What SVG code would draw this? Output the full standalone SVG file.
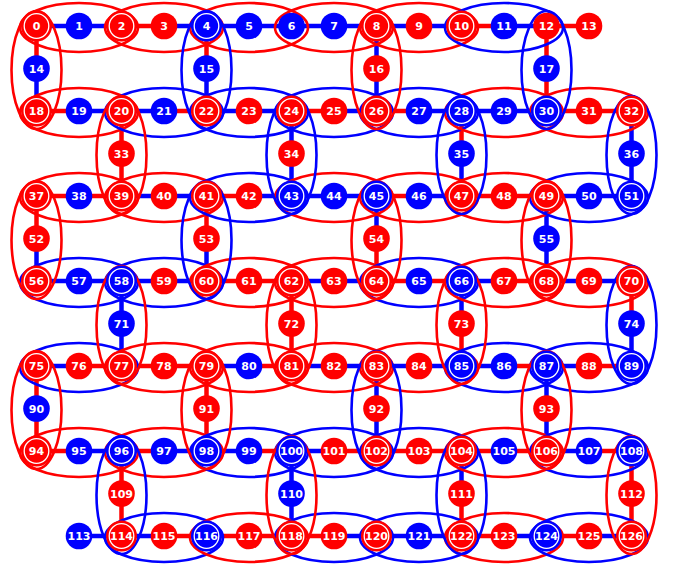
<svg xmlns="http://www.w3.org/2000/svg" width="677" height="568" viewBox="0 0 677 568">
<style>
.lr{stroke:#ff0000;stroke-width:4.5}
.lb{stroke:#0000ff;stroke-width:4.5}
ellipse{fill:none;stroke-width:2.6}
ellipse.R{stroke:#ff0000}
ellipse.B{stroke:#0000ff}
circle.R{fill:#ff0000}
circle.B{fill:#0000ff}
circle.w{fill:none;stroke:#ffffff;stroke-width:1.3}
text{font-family:"DejaVu Sans",sans-serif;font-weight:bold;font-size:11px;fill:#ffffff;text-anchor:middle}
</style>
<rect width="677" height="568" fill="#ffffff"/>
<g id="connectors">
<line x1="36.5" y1="26" x2="79" y2="26" class="lb"/>
<line x1="79" y1="26" x2="121.5" y2="26" class="lb"/>
<line x1="121.5" y1="26" x2="164" y2="26" class="lr"/>
<line x1="164" y1="26" x2="206.5" y2="26" class="lb"/>
<line x1="206.5" y1="26" x2="249" y2="26" class="lb"/>
<line x1="249" y1="26" x2="291.5" y2="26" class="lb"/>
<line x1="291.5" y1="26" x2="334" y2="26" class="lb"/>
<line x1="334" y1="26" x2="376.5" y2="26" class="lb"/>
<line x1="376.5" y1="26" x2="419" y2="26" class="lb"/>
<line x1="419" y1="26" x2="461.5" y2="26" class="lb"/>
<line x1="461.5" y1="26" x2="504" y2="26" class="lr"/>
<line x1="504" y1="26" x2="546.5" y2="26" class="lb"/>
<line x1="546.5" y1="26" x2="589" y2="26" class="lr"/>
<line x1="36.5" y1="26" x2="36.5" y2="68.5" class="lr"/>
<line x1="36.5" y1="68.5" x2="36.5" y2="111" class="lb"/>
<line x1="206.5" y1="26" x2="206.5" y2="68.5" class="lr"/>
<line x1="206.5" y1="68.5" x2="206.5" y2="111" class="lb"/>
<line x1="376.5" y1="26" x2="376.5" y2="68.5" class="lb"/>
<line x1="376.5" y1="68.5" x2="376.5" y2="111" class="lb"/>
<line x1="546.5" y1="26" x2="546.5" y2="68.5" class="lr"/>
<line x1="546.5" y1="68.5" x2="546.5" y2="111" class="lr"/>
<line x1="36.5" y1="111" x2="79" y2="111" class="lr"/>
<line x1="79" y1="111" x2="121.5" y2="111" class="lb"/>
<line x1="121.5" y1="111" x2="164" y2="111" class="lb"/>
<line x1="164" y1="111" x2="206.5" y2="111" class="lr"/>
<line x1="206.5" y1="111" x2="249" y2="111" class="lb"/>
<line x1="249" y1="111" x2="291.5" y2="111" class="lb"/>
<line x1="291.5" y1="111" x2="334" y2="111" class="lr"/>
<line x1="334" y1="111" x2="376.5" y2="111" class="lb"/>
<line x1="376.5" y1="111" x2="419" y2="111" class="lr"/>
<line x1="419" y1="111" x2="461.5" y2="111" class="lb"/>
<line x1="461.5" y1="111" x2="504" y2="111" class="lb"/>
<line x1="504" y1="111" x2="546.5" y2="111" class="lb"/>
<line x1="546.5" y1="111" x2="589" y2="111" class="lr"/>
<line x1="589" y1="111" x2="631.5" y2="111" class="lr"/>
<line x1="121.5" y1="111" x2="121.5" y2="153.5" class="lr"/>
<line x1="121.5" y1="153.5" x2="121.5" y2="196" class="lr"/>
<line x1="291.5" y1="111" x2="291.5" y2="153.5" class="lb"/>
<line x1="291.5" y1="153.5" x2="291.5" y2="196" class="lb"/>
<line x1="461.5" y1="111" x2="461.5" y2="153.5" class="lr"/>
<line x1="461.5" y1="153.5" x2="461.5" y2="196" class="lb"/>
<line x1="631.5" y1="111" x2="631.5" y2="153.5" class="lb"/>
<line x1="631.5" y1="153.5" x2="631.5" y2="196" class="lb"/>
<line x1="36.5" y1="196" x2="79" y2="196" class="lr"/>
<line x1="79" y1="196" x2="121.5" y2="196" class="lr"/>
<line x1="121.5" y1="196" x2="164" y2="196" class="lb"/>
<line x1="164" y1="196" x2="206.5" y2="196" class="lb"/>
<line x1="206.5" y1="196" x2="249" y2="196" class="lr"/>
<line x1="249" y1="196" x2="291.5" y2="196" class="lb"/>
<line x1="291.5" y1="196" x2="334" y2="196" class="lb"/>
<line x1="334" y1="196" x2="376.5" y2="196" class="lb"/>
<line x1="376.5" y1="196" x2="419" y2="196" class="lr"/>
<line x1="419" y1="196" x2="461.5" y2="196" class="lb"/>
<line x1="461.5" y1="196" x2="504" y2="196" class="lr"/>
<line x1="504" y1="196" x2="546.5" y2="196" class="lr"/>
<line x1="546.5" y1="196" x2="589" y2="196" class="lb"/>
<line x1="589" y1="196" x2="631.5" y2="196" class="lb"/>
<line x1="36.5" y1="196" x2="36.5" y2="238.5" class="lr"/>
<line x1="36.5" y1="238.5" x2="36.5" y2="281" class="lb"/>
<line x1="206.5" y1="196" x2="206.5" y2="238.5" class="lr"/>
<line x1="206.5" y1="238.5" x2="206.5" y2="281" class="lb"/>
<line x1="376.5" y1="196" x2="376.5" y2="238.5" class="lb"/>
<line x1="376.5" y1="238.5" x2="376.5" y2="281" class="lr"/>
<line x1="546.5" y1="196" x2="546.5" y2="238.5" class="lb"/>
<line x1="546.5" y1="238.5" x2="546.5" y2="281" class="lb"/>
<line x1="36.5" y1="281" x2="79" y2="281" class="lb"/>
<line x1="79" y1="281" x2="121.5" y2="281" class="lb"/>
<line x1="121.5" y1="281" x2="164" y2="281" class="lb"/>
<line x1="164" y1="281" x2="206.5" y2="281" class="lb"/>
<line x1="206.5" y1="281" x2="249" y2="281" class="lr"/>
<line x1="249" y1="281" x2="291.5" y2="281" class="lr"/>
<line x1="291.5" y1="281" x2="334" y2="281" class="lb"/>
<line x1="334" y1="281" x2="376.5" y2="281" class="lb"/>
<line x1="376.5" y1="281" x2="419" y2="281" class="lr"/>
<line x1="419" y1="281" x2="461.5" y2="281" class="lr"/>
<line x1="461.5" y1="281" x2="504" y2="281" class="lb"/>
<line x1="504" y1="281" x2="546.5" y2="281" class="lr"/>
<line x1="546.5" y1="281" x2="589" y2="281" class="lb"/>
<line x1="589" y1="281" x2="631.5" y2="281" class="lb"/>
<line x1="121.5" y1="281" x2="121.5" y2="323.5" class="lb"/>
<line x1="121.5" y1="323.5" x2="121.5" y2="366" class="lb"/>
<line x1="291.5" y1="281" x2="291.5" y2="323.5" class="lr"/>
<line x1="291.5" y1="323.5" x2="291.5" y2="366" class="lr"/>
<line x1="461.5" y1="281" x2="461.5" y2="323.5" class="lb"/>
<line x1="461.5" y1="323.5" x2="461.5" y2="366" class="lr"/>
<line x1="631.5" y1="281" x2="631.5" y2="323.5" class="lr"/>
<line x1="631.5" y1="323.5" x2="631.5" y2="366" class="lb"/>
<line x1="36.5" y1="366" x2="79" y2="366" class="lb"/>
<line x1="79" y1="366" x2="121.5" y2="366" class="lr"/>
<line x1="121.5" y1="366" x2="164" y2="366" class="lr"/>
<line x1="164" y1="366" x2="206.5" y2="366" class="lr"/>
<line x1="206.5" y1="366" x2="249" y2="366" class="lb"/>
<line x1="249" y1="366" x2="291.5" y2="366" class="lr"/>
<line x1="291.5" y1="366" x2="334" y2="366" class="lb"/>
<line x1="334" y1="366" x2="376.5" y2="366" class="lb"/>
<line x1="376.5" y1="366" x2="419" y2="366" class="lb"/>
<line x1="419" y1="366" x2="461.5" y2="366" class="lb"/>
<line x1="461.5" y1="366" x2="504" y2="366" class="lb"/>
<line x1="504" y1="366" x2="546.5" y2="366" class="lr"/>
<line x1="546.5" y1="366" x2="589" y2="366" class="lb"/>
<line x1="589" y1="366" x2="631.5" y2="366" class="lr"/>
<line x1="36.5" y1="366" x2="36.5" y2="408.5" class="lr"/>
<line x1="36.5" y1="408.5" x2="36.5" y2="451" class="lr"/>
<line x1="206.5" y1="366" x2="206.5" y2="408.5" class="lr"/>
<line x1="206.5" y1="408.5" x2="206.5" y2="451" class="lr"/>
<line x1="376.5" y1="366" x2="376.5" y2="408.5" class="lb"/>
<line x1="376.5" y1="408.5" x2="376.5" y2="451" class="lb"/>
<line x1="546.5" y1="366" x2="546.5" y2="408.5" class="lb"/>
<line x1="546.5" y1="408.5" x2="546.5" y2="451" class="lb"/>
<line x1="36.5" y1="451" x2="79" y2="451" class="lr"/>
<line x1="79" y1="451" x2="121.5" y2="451" class="lb"/>
<line x1="121.5" y1="451" x2="164" y2="451" class="lr"/>
<line x1="164" y1="451" x2="206.5" y2="451" class="lb"/>
<line x1="206.5" y1="451" x2="249" y2="451" class="lb"/>
<line x1="249" y1="451" x2="291.5" y2="451" class="lr"/>
<line x1="291.5" y1="451" x2="334" y2="451" class="lb"/>
<line x1="334" y1="451" x2="376.5" y2="451" class="lr"/>
<line x1="376.5" y1="451" x2="419" y2="451" class="lr"/>
<line x1="419" y1="451" x2="461.5" y2="451" class="lr"/>
<line x1="461.5" y1="451" x2="504" y2="451" class="lr"/>
<line x1="504" y1="451" x2="546.5" y2="451" class="lr"/>
<line x1="546.5" y1="451" x2="589" y2="451" class="lb"/>
<line x1="589" y1="451" x2="631.5" y2="451" class="lr"/>
<line x1="121.5" y1="451" x2="121.5" y2="493.5" class="lr"/>
<line x1="121.5" y1="493.5" x2="121.5" y2="536" class="lr"/>
<line x1="291.5" y1="451" x2="291.5" y2="493.5" class="lb"/>
<line x1="291.5" y1="493.5" x2="291.5" y2="536" class="lb"/>
<line x1="461.5" y1="451" x2="461.5" y2="493.5" class="lb"/>
<line x1="461.5" y1="493.5" x2="461.5" y2="536" class="lr"/>
<line x1="631.5" y1="451" x2="631.5" y2="493.5" class="lr"/>
<line x1="631.5" y1="493.5" x2="631.5" y2="536" class="lr"/>
<line x1="79" y1="536" x2="121.5" y2="536" class="lb"/>
<line x1="121.5" y1="536" x2="164" y2="536" class="lb"/>
<line x1="164" y1="536" x2="206.5" y2="536" class="lr"/>
<line x1="206.5" y1="536" x2="249" y2="536" class="lr"/>
<line x1="249" y1="536" x2="291.5" y2="536" class="lr"/>
<line x1="291.5" y1="536" x2="334" y2="536" class="lr"/>
<line x1="334" y1="536" x2="376.5" y2="536" class="lb"/>
<line x1="376.5" y1="536" x2="419" y2="536" class="lb"/>
<line x1="419" y1="536" x2="461.5" y2="536" class="lb"/>
<line x1="461.5" y1="536" x2="504" y2="536" class="lr"/>
<line x1="504" y1="536" x2="546.5" y2="536" class="lb"/>
<line x1="546.5" y1="536" x2="589" y2="536" class="lr"/>
<line x1="589" y1="536" x2="631.5" y2="536" class="lb"/>
</g>
<g id="loops">
<ellipse cx="79" cy="27.5" rx="59" ry="24.5" class="R"/>
<ellipse cx="164" cy="27.5" rx="59" ry="24.5" class="R"/>
<ellipse cx="249" cy="27.5" rx="59" ry="24.5" class="R"/>
<ellipse cx="334" cy="27.5" rx="59" ry="24.5" class="R"/>
<ellipse cx="419" cy="27.5" rx="59" ry="24.5" class="R"/>
<ellipse cx="504" cy="27.5" rx="59" ry="24.5" class="B"/>
<ellipse cx="79" cy="112.5" rx="59" ry="24.5" class="R"/>
<ellipse cx="164" cy="112.5" rx="59" ry="24.5" class="B"/>
<ellipse cx="249" cy="112.5" rx="59" ry="24.5" class="B"/>
<ellipse cx="334" cy="112.5" rx="59" ry="24.5" class="B"/>
<ellipse cx="419" cy="112.5" rx="59" ry="24.5" class="B"/>
<ellipse cx="504" cy="112.5" rx="59" ry="24.5" class="R"/>
<ellipse cx="589" cy="112.5" rx="59" ry="24.5" class="R"/>
<ellipse cx="79" cy="197.5" rx="59" ry="24.5" class="R"/>
<ellipse cx="164" cy="197.5" rx="59" ry="24.5" class="R"/>
<ellipse cx="249" cy="197.5" rx="59" ry="24.5" class="B"/>
<ellipse cx="334" cy="197.5" rx="59" ry="24.5" class="R"/>
<ellipse cx="419" cy="197.5" rx="59" ry="24.5" class="R"/>
<ellipse cx="504" cy="197.5" rx="59" ry="24.5" class="R"/>
<ellipse cx="589" cy="197.5" rx="59" ry="24.5" class="B"/>
<ellipse cx="79" cy="282.5" rx="59" ry="24.5" class="B"/>
<ellipse cx="164" cy="282.5" rx="59" ry="24.5" class="B"/>
<ellipse cx="249" cy="282.5" rx="59" ry="24.5" class="R"/>
<ellipse cx="334" cy="282.5" rx="59" ry="24.5" class="R"/>
<ellipse cx="419" cy="282.5" rx="59" ry="24.5" class="B"/>
<ellipse cx="504" cy="282.5" rx="59" ry="24.5" class="R"/>
<ellipse cx="589" cy="282.5" rx="59" ry="24.5" class="R"/>
<ellipse cx="79" cy="367.5" rx="59" ry="24.5" class="B"/>
<ellipse cx="164" cy="367.5" rx="59" ry="24.5" class="R"/>
<ellipse cx="249" cy="367.5" rx="59" ry="24.5" class="R"/>
<ellipse cx="334" cy="367.5" rx="59" ry="24.5" class="R"/>
<ellipse cx="419" cy="367.5" rx="59" ry="24.5" class="R"/>
<ellipse cx="504" cy="367.5" rx="59" ry="24.5" class="B"/>
<ellipse cx="589" cy="367.5" rx="59" ry="24.5" class="B"/>
<ellipse cx="79" cy="452.5" rx="59" ry="24.5" class="R"/>
<ellipse cx="164" cy="452.5" rx="59" ry="24.5" class="R"/>
<ellipse cx="249" cy="452.5" rx="59" ry="24.5" class="B"/>
<ellipse cx="334" cy="452.5" rx="59" ry="24.5" class="B"/>
<ellipse cx="419" cy="452.5" rx="59" ry="24.5" class="B"/>
<ellipse cx="504" cy="452.5" rx="59" ry="24.5" class="R"/>
<ellipse cx="589" cy="452.5" rx="59" ry="24.5" class="B"/>
<ellipse cx="164" cy="537.5" rx="59" ry="24.5" class="B"/>
<ellipse cx="249" cy="537.5" rx="59" ry="24.5" class="R"/>
<ellipse cx="334" cy="537.5" rx="59" ry="24.5" class="B"/>
<ellipse cx="419" cy="537.5" rx="59" ry="24.5" class="B"/>
<ellipse cx="504" cy="537.5" rx="59" ry="24.5" class="R"/>
<ellipse cx="589" cy="537.5" rx="59" ry="24.5" class="B"/>
<ellipse cx="36.5" cy="70" rx="25" ry="59" class="R"/>
<ellipse cx="206.5" cy="70" rx="25" ry="59" class="B"/>
<ellipse cx="376.5" cy="70" rx="25" ry="59" class="R"/>
<ellipse cx="546.5" cy="70" rx="25" ry="59" class="B"/>
<ellipse cx="121.5" cy="155" rx="25" ry="59" class="R"/>
<ellipse cx="291.5" cy="155" rx="25" ry="59" class="B"/>
<ellipse cx="461.5" cy="155" rx="25" ry="59" class="B"/>
<ellipse cx="631.5" cy="155" rx="25" ry="59" class="B"/>
<ellipse cx="36.5" cy="240" rx="25" ry="59" class="R"/>
<ellipse cx="206.5" cy="240" rx="25" ry="59" class="B"/>
<ellipse cx="376.5" cy="240" rx="25" ry="59" class="R"/>
<ellipse cx="546.5" cy="240" rx="25" ry="59" class="R"/>
<ellipse cx="121.5" cy="325" rx="25" ry="59" class="R"/>
<ellipse cx="291.5" cy="325" rx="25" ry="59" class="R"/>
<ellipse cx="461.5" cy="325" rx="25" ry="59" class="R"/>
<ellipse cx="631.5" cy="325" rx="25" ry="59" class="B"/>
<ellipse cx="36.5" cy="410" rx="25" ry="59" class="R"/>
<ellipse cx="206.5" cy="410" rx="25" ry="59" class="R"/>
<ellipse cx="376.5" cy="410" rx="25" ry="59" class="B"/>
<ellipse cx="546.5" cy="410" rx="25" ry="59" class="R"/>
<ellipse cx="121.5" cy="495" rx="25" ry="59" class="B"/>
<ellipse cx="291.5" cy="495" rx="25" ry="59" class="R"/>
<ellipse cx="461.5" cy="495" rx="25" ry="59" class="B"/>
<ellipse cx="631.5" cy="495" rx="25" ry="59" class="R"/>
</g>
<g id="nodes">
<g id="n0" transform="translate(36.5,26)"><circle r="15.5" class="R"/><circle r="12.3" class="w"/><text y="4">0</text></g>
<g id="n1" transform="translate(79,26)"><circle r="13.3" class="B"/><text y="4">1</text></g>
<g id="n2" transform="translate(121.5,26)"><circle r="15.5" class="R"/><circle r="12.3" class="w"/><text y="4">2</text></g>
<g id="n3" transform="translate(164,26)"><circle r="13.3" class="R"/><text y="4">3</text></g>
<g id="n4" transform="translate(206.5,26)"><circle r="15.5" class="B"/><circle r="12.3" class="w"/><text y="4">4</text></g>
<g id="n5" transform="translate(249,26)"><circle r="13.3" class="B"/><text y="4">5</text></g>
<g id="n6" transform="translate(291.5,26)"><circle r="13.3" class="B"/><text y="4">6</text></g>
<g id="n7" transform="translate(334,26)"><circle r="13.3" class="B"/><text y="4">7</text></g>
<g id="n8" transform="translate(376.5,26)"><circle r="15.5" class="R"/><circle r="12.3" class="w"/><text y="4">8</text></g>
<g id="n9" transform="translate(419,26)"><circle r="13.3" class="R"/><text y="4">9</text></g>
<g id="n10" transform="translate(461.5,26)"><circle r="15.5" class="R"/><circle r="12.3" class="w"/><text y="4">10</text></g>
<g id="n11" transform="translate(504,26)"><circle r="13.3" class="B"/><text y="4">11</text></g>
<g id="n12" transform="translate(546.5,26)"><circle r="13.3" class="R"/><text y="4">12</text></g>
<g id="n13" transform="translate(589,26)"><circle r="13.3" class="R"/><text y="4">13</text></g>
<g id="n14" transform="translate(36.5,68.5)"><circle r="13.3" class="B"/><text y="4">14</text></g>
<g id="n15" transform="translate(206.5,68.5)"><circle r="13.3" class="B"/><text y="4">15</text></g>
<g id="n16" transform="translate(376.5,68.5)"><circle r="13.3" class="R"/><text y="4">16</text></g>
<g id="n17" transform="translate(546.5,68.5)"><circle r="13.3" class="B"/><text y="4">17</text></g>
<g id="n18" transform="translate(36.5,111)"><circle r="15.5" class="R"/><circle r="12.3" class="w"/><text y="4">18</text></g>
<g id="n19" transform="translate(79,111)"><circle r="13.3" class="B"/><text y="4">19</text></g>
<g id="n20" transform="translate(121.5,111)"><circle r="15.5" class="R"/><circle r="12.3" class="w"/><text y="4">20</text></g>
<g id="n21" transform="translate(164,111)"><circle r="13.3" class="B"/><text y="4">21</text></g>
<g id="n22" transform="translate(206.5,111)"><circle r="15.5" class="R"/><circle r="12.3" class="w"/><text y="4">22</text></g>
<g id="n23" transform="translate(249,111)"><circle r="13.3" class="R"/><text y="4">23</text></g>
<g id="n24" transform="translate(291.5,111)"><circle r="15.5" class="R"/><circle r="12.3" class="w"/><text y="4">24</text></g>
<g id="n25" transform="translate(334,111)"><circle r="13.3" class="R"/><text y="4">25</text></g>
<g id="n26" transform="translate(376.5,111)"><circle r="15.5" class="R"/><circle r="12.3" class="w"/><text y="4">26</text></g>
<g id="n27" transform="translate(419,111)"><circle r="13.3" class="B"/><text y="4">27</text></g>
<g id="n28" transform="translate(461.5,111)"><circle r="15.5" class="B"/><circle r="12.3" class="w"/><text y="4">28</text></g>
<g id="n29" transform="translate(504,111)"><circle r="13.3" class="B"/><text y="4">29</text></g>
<g id="n30" transform="translate(546.5,111)"><circle r="15.5" class="B"/><circle r="12.3" class="w"/><text y="4">30</text></g>
<g id="n31" transform="translate(589,111)"><circle r="13.3" class="R"/><text y="4">31</text></g>
<g id="n32" transform="translate(631.5,111)"><circle r="15.5" class="R"/><circle r="12.3" class="w"/><text y="4">32</text></g>
<g id="n33" transform="translate(121.5,153.5)"><circle r="13.3" class="R"/><text y="4">33</text></g>
<g id="n34" transform="translate(291.5,153.5)"><circle r="13.3" class="R"/><text y="4">34</text></g>
<g id="n35" transform="translate(461.5,153.5)"><circle r="13.3" class="B"/><text y="4">35</text></g>
<g id="n36" transform="translate(631.5,153.5)"><circle r="13.3" class="B"/><text y="4">36</text></g>
<g id="n37" transform="translate(36.5,196)"><circle r="15.5" class="R"/><circle r="12.3" class="w"/><text y="4">37</text></g>
<g id="n38" transform="translate(79,196)"><circle r="13.3" class="B"/><text y="4">38</text></g>
<g id="n39" transform="translate(121.5,196)"><circle r="15.5" class="R"/><circle r="12.3" class="w"/><text y="4">39</text></g>
<g id="n40" transform="translate(164,196)"><circle r="13.3" class="R"/><text y="4">40</text></g>
<g id="n41" transform="translate(206.5,196)"><circle r="15.5" class="R"/><circle r="12.3" class="w"/><text y="4">41</text></g>
<g id="n42" transform="translate(249,196)"><circle r="13.3" class="R"/><text y="4">42</text></g>
<g id="n43" transform="translate(291.5,196)"><circle r="15.5" class="B"/><circle r="12.3" class="w"/><text y="4">43</text></g>
<g id="n44" transform="translate(334,196)"><circle r="13.3" class="B"/><text y="4">44</text></g>
<g id="n45" transform="translate(376.5,196)"><circle r="15.5" class="B"/><circle r="12.3" class="w"/><text y="4">45</text></g>
<g id="n46" transform="translate(419,196)"><circle r="13.3" class="B"/><text y="4">46</text></g>
<g id="n47" transform="translate(461.5,196)"><circle r="15.5" class="R"/><circle r="12.3" class="w"/><text y="4">47</text></g>
<g id="n48" transform="translate(504,196)"><circle r="13.3" class="R"/><text y="4">48</text></g>
<g id="n49" transform="translate(546.5,196)"><circle r="15.5" class="R"/><circle r="12.3" class="w"/><text y="4">49</text></g>
<g id="n50" transform="translate(589,196)"><circle r="13.3" class="B"/><text y="4">50</text></g>
<g id="n51" transform="translate(631.5,196)"><circle r="15.5" class="B"/><circle r="12.3" class="w"/><text y="4">51</text></g>
<g id="n52" transform="translate(36.5,238.5)"><circle r="13.3" class="R"/><text y="4">52</text></g>
<g id="n53" transform="translate(206.5,238.5)"><circle r="13.3" class="R"/><text y="4">53</text></g>
<g id="n54" transform="translate(376.5,238.5)"><circle r="13.3" class="R"/><text y="4">54</text></g>
<g id="n55" transform="translate(546.5,238.5)"><circle r="13.3" class="B"/><text y="4">55</text></g>
<g id="n56" transform="translate(36.5,281)"><circle r="15.5" class="R"/><circle r="12.3" class="w"/><text y="4">56</text></g>
<g id="n57" transform="translate(79,281)"><circle r="13.3" class="B"/><text y="4">57</text></g>
<g id="n58" transform="translate(121.5,281)"><circle r="15.5" class="B"/><circle r="12.3" class="w"/><text y="4">58</text></g>
<g id="n59" transform="translate(164,281)"><circle r="13.3" class="R"/><text y="4">59</text></g>
<g id="n60" transform="translate(206.5,281)"><circle r="15.5" class="R"/><circle r="12.3" class="w"/><text y="4">60</text></g>
<g id="n61" transform="translate(249,281)"><circle r="13.3" class="R"/><text y="4">61</text></g>
<g id="n62" transform="translate(291.5,281)"><circle r="15.5" class="R"/><circle r="12.3" class="w"/><text y="4">62</text></g>
<g id="n63" transform="translate(334,281)"><circle r="13.3" class="R"/><text y="4">63</text></g>
<g id="n64" transform="translate(376.5,281)"><circle r="15.5" class="R"/><circle r="12.3" class="w"/><text y="4">64</text></g>
<g id="n65" transform="translate(419,281)"><circle r="13.3" class="B"/><text y="4">65</text></g>
<g id="n66" transform="translate(461.5,281)"><circle r="15.5" class="B"/><circle r="12.3" class="w"/><text y="4">66</text></g>
<g id="n67" transform="translate(504,281)"><circle r="13.3" class="R"/><text y="4">67</text></g>
<g id="n68" transform="translate(546.5,281)"><circle r="15.5" class="R"/><circle r="12.3" class="w"/><text y="4">68</text></g>
<g id="n69" transform="translate(589,281)"><circle r="13.3" class="R"/><text y="4">69</text></g>
<g id="n70" transform="translate(631.5,281)"><circle r="15.5" class="R"/><circle r="12.3" class="w"/><text y="4">70</text></g>
<g id="n71" transform="translate(121.5,323.5)"><circle r="13.3" class="B"/><text y="4">71</text></g>
<g id="n72" transform="translate(291.5,323.5)"><circle r="13.3" class="R"/><text y="4">72</text></g>
<g id="n73" transform="translate(461.5,323.5)"><circle r="13.3" class="R"/><text y="4">73</text></g>
<g id="n74" transform="translate(631.5,323.5)"><circle r="13.3" class="B"/><text y="4">74</text></g>
<g id="n75" transform="translate(36.5,366)"><circle r="15.5" class="R"/><circle r="12.3" class="w"/><text y="4">75</text></g>
<g id="n76" transform="translate(79,366)"><circle r="13.3" class="R"/><text y="4">76</text></g>
<g id="n77" transform="translate(121.5,366)"><circle r="15.5" class="R"/><circle r="12.3" class="w"/><text y="4">77</text></g>
<g id="n78" transform="translate(164,366)"><circle r="13.3" class="R"/><text y="4">78</text></g>
<g id="n79" transform="translate(206.5,366)"><circle r="15.5" class="R"/><circle r="12.3" class="w"/><text y="4">79</text></g>
<g id="n80" transform="translate(249,366)"><circle r="13.3" class="B"/><text y="4">80</text></g>
<g id="n81" transform="translate(291.5,366)"><circle r="15.5" class="R"/><circle r="12.3" class="w"/><text y="4">81</text></g>
<g id="n82" transform="translate(334,366)"><circle r="13.3" class="R"/><text y="4">82</text></g>
<g id="n83" transform="translate(376.5,366)"><circle r="15.5" class="R"/><circle r="12.3" class="w"/><text y="4">83</text></g>
<g id="n84" transform="translate(419,366)"><circle r="13.3" class="R"/><text y="4">84</text></g>
<g id="n85" transform="translate(461.5,366)"><circle r="15.5" class="B"/><circle r="12.3" class="w"/><text y="4">85</text></g>
<g id="n86" transform="translate(504,366)"><circle r="13.3" class="B"/><text y="4">86</text></g>
<g id="n87" transform="translate(546.5,366)"><circle r="15.5" class="B"/><circle r="12.3" class="w"/><text y="4">87</text></g>
<g id="n88" transform="translate(589,366)"><circle r="13.3" class="R"/><text y="4">88</text></g>
<g id="n89" transform="translate(631.5,366)"><circle r="15.5" class="B"/><circle r="12.3" class="w"/><text y="4">89</text></g>
<g id="n90" transform="translate(36.5,408.5)"><circle r="13.3" class="B"/><text y="4">90</text></g>
<g id="n91" transform="translate(206.5,408.5)"><circle r="13.3" class="R"/><text y="4">91</text></g>
<g id="n92" transform="translate(376.5,408.5)"><circle r="13.3" class="R"/><text y="4">92</text></g>
<g id="n93" transform="translate(546.5,408.5)"><circle r="13.3" class="R"/><text y="4">93</text></g>
<g id="n94" transform="translate(36.5,451)"><circle r="15.5" class="R"/><circle r="12.3" class="w"/><text y="4">94</text></g>
<g id="n95" transform="translate(79,451)"><circle r="13.3" class="B"/><text y="4">95</text></g>
<g id="n96" transform="translate(121.5,451)"><circle r="15.5" class="B"/><circle r="12.3" class="w"/><text y="4">96</text></g>
<g id="n97" transform="translate(164,451)"><circle r="13.3" class="B"/><text y="4">97</text></g>
<g id="n98" transform="translate(206.5,451)"><circle r="15.5" class="B"/><circle r="12.3" class="w"/><text y="4">98</text></g>
<g id="n99" transform="translate(249,451)"><circle r="13.3" class="B"/><text y="4">99</text></g>
<g id="n100" transform="translate(291.5,451)"><circle r="15.5" class="B"/><circle r="12.3" class="w"/><text y="4">100</text></g>
<g id="n101" transform="translate(334,451)"><circle r="13.3" class="R"/><text y="4">101</text></g>
<g id="n102" transform="translate(376.5,451)"><circle r="15.5" class="R"/><circle r="12.3" class="w"/><text y="4">102</text></g>
<g id="n103" transform="translate(419,451)"><circle r="13.3" class="R"/><text y="4">103</text></g>
<g id="n104" transform="translate(461.5,451)"><circle r="15.5" class="R"/><circle r="12.3" class="w"/><text y="4">104</text></g>
<g id="n105" transform="translate(504,451)"><circle r="13.3" class="B"/><text y="4">105</text></g>
<g id="n106" transform="translate(546.5,451)"><circle r="15.5" class="R"/><circle r="12.3" class="w"/><text y="4">106</text></g>
<g id="n107" transform="translate(589,451)"><circle r="13.3" class="B"/><text y="4">107</text></g>
<g id="n108" transform="translate(631.5,451)"><circle r="15.5" class="B"/><circle r="12.3" class="w"/><text y="4">108</text></g>
<g id="n109" transform="translate(121.5,493.5)"><circle r="13.3" class="R"/><text y="4">109</text></g>
<g id="n110" transform="translate(291.5,493.5)"><circle r="13.3" class="B"/><text y="4">110</text></g>
<g id="n111" transform="translate(461.5,493.5)"><circle r="13.3" class="R"/><text y="4">111</text></g>
<g id="n112" transform="translate(631.5,493.5)"><circle r="13.3" class="R"/><text y="4">112</text></g>
<g id="n113" transform="translate(79,536)"><circle r="13.3" class="B"/><text y="4">113</text></g>
<g id="n114" transform="translate(121.5,536)"><circle r="15.5" class="R"/><circle r="12.3" class="w"/><text y="4">114</text></g>
<g id="n115" transform="translate(164,536)"><circle r="13.3" class="R"/><text y="4">115</text></g>
<g id="n116" transform="translate(206.5,536)"><circle r="15.5" class="B"/><circle r="12.3" class="w"/><text y="4">116</text></g>
<g id="n117" transform="translate(249,536)"><circle r="13.3" class="R"/><text y="4">117</text></g>
<g id="n118" transform="translate(291.5,536)"><circle r="15.5" class="R"/><circle r="12.3" class="w"/><text y="4">118</text></g>
<g id="n119" transform="translate(334,536)"><circle r="13.3" class="R"/><text y="4">119</text></g>
<g id="n120" transform="translate(376.5,536)"><circle r="15.5" class="R"/><circle r="12.3" class="w"/><text y="4">120</text></g>
<g id="n121" transform="translate(419,536)"><circle r="13.3" class="B"/><text y="4">121</text></g>
<g id="n122" transform="translate(461.5,536)"><circle r="15.5" class="R"/><circle r="12.3" class="w"/><text y="4">122</text></g>
<g id="n123" transform="translate(504,536)"><circle r="13.3" class="R"/><text y="4">123</text></g>
<g id="n124" transform="translate(546.5,536)"><circle r="15.5" class="B"/><circle r="12.3" class="w"/><text y="4">124</text></g>
<g id="n125" transform="translate(589,536)"><circle r="13.3" class="R"/><text y="4">125</text></g>
<g id="n126" transform="translate(631.5,536)"><circle r="15.5" class="R"/><circle r="12.3" class="w"/><text y="4">126</text></g>
</g>
</svg>
